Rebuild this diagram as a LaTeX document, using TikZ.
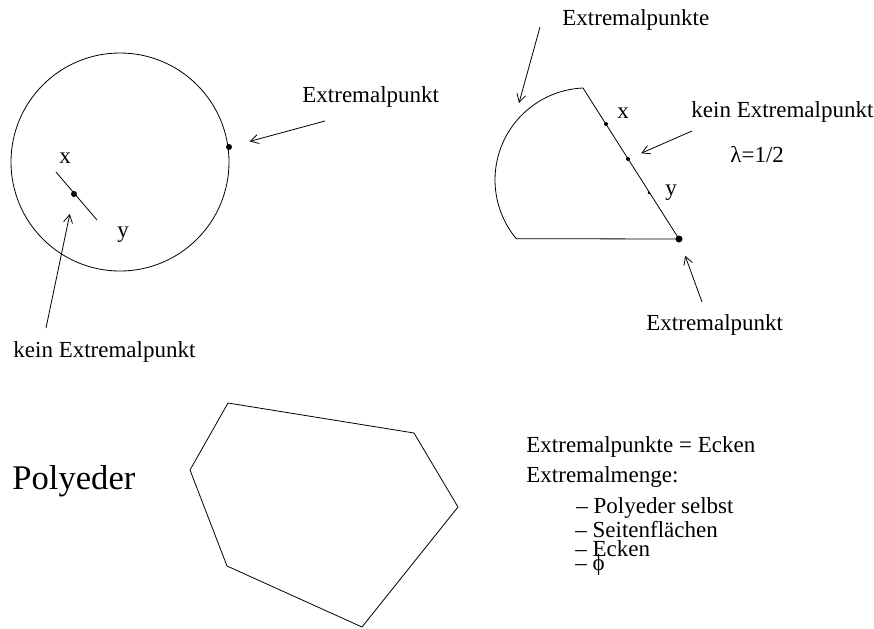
\documentclass[tikz,border=0pt]{standalone}
\usepackage{fontspec}
\setmainfont{Liberation Serif}
\usetikzlibrary{arrows.meta}

\begin{document}
\begin{tikzpicture}[x=0.5pt, y=-0.5pt,
    >={Straight Barb[length=4pt,width=4.5pt]},
    font=\fontsize{11.5}{13}\selectfont,
    pkt/.style={circle, fill, inner sep=0pt, minimum size=3pt},
    txt/.style={anchor=base west, inner sep=0pt}]
          \useasboundingbox (0,0) rectangle (874,628);

          % Kreis
          \coordinate (m) at (120,162);
          \draw (m) circle [radius=109];
          \node[pkt] (a) at (229,147) {};
          \coordinate (x1) at (56,172);
          \coordinate (y1) at (97,220);
          \draw (x1) -- (y1);
          \node[pkt] (b) at (74,194) {};
          \node[txt] (xa) at (59,163) {x};
          \node[txt] (ya) at (117,237) {y};

          \node[txt] (la) at (302,102) {Extremalpunkt};
          \node[txt] (lb) at (13,357) {kein Extremalpunkt};
          \coordinate (pa) at (325,121);
          \coordinate (pb) at (46,328);
          \draw[->, shorten >=9pt] (pa) -- (a);
          \draw[->, shorten >=8.5pt] (pb) -- (b);

          % Kreissegment
          \node[pkt, minimum size=3.5pt] (e) at (679,239) {};
          \coordinate (o) at (583,88);
          \draw (e.center) -- (o) arc[start angle=267.5, end angle=140.3, radius=92] -- cycle;
          \node[pkt, minimum size=2pt] (c) at (606,124) {};
          \node[pkt, minimum size=2pt] (d) at (628,159) {};
          \node[pkt, minimum size=1.4pt] (f) at (649,193) {};
          \node[txt] (xb) at (617,118) {x};
          \node[txt] (yb) at (665,195) {y};

          \node[txt] (lc) at (562,25) {Extremalpunkte};
          \node[txt] (ld) at (691,117) {kein Extremalpunkt};
          \node[txt] (lam) at (730,162) {λ=1/2};
          \node[txt] (le) at (646,330) {Extremalpunkt};
          \coordinate (pc) at (540,27);
          \coordinate (qc) at (519,103);
          \coordinate (pd) at (692,131);
          \coordinate (pe) at (702,302);
          \draw[->] (pc) -- (qc);
          \draw[->, shorten >=6pt] (pd) -- (d);
          \draw[->, shorten >=7pt] (pe) -- (e);

          % Polyeder
          \node[txt, font=\fontsize{17.3}{20}\selectfont] (poly) at (12,489) {Polyeder};
          \draw (228,403) -- (414,433) -- (458,507) -- (362,627) --
                (227,566) -- (190,470) -- cycle;

          \node[txt] (t1) at (526,452) {Extremalpunkte = Ecken};
          \node[txt] (t2) at (526,482) {Extremalmenge:};
          \node[txt] (t3) at (576,513) {– Polyeder selbst};
          \node[txt] (t4) at (575,537) {– Seitenflächen};
          \node[txt] (t5) at (575,556) {– Ecken};
          \node[txt] (t6) at (575,570) {– ϕ};
        \end{tikzpicture}
\end{document}
